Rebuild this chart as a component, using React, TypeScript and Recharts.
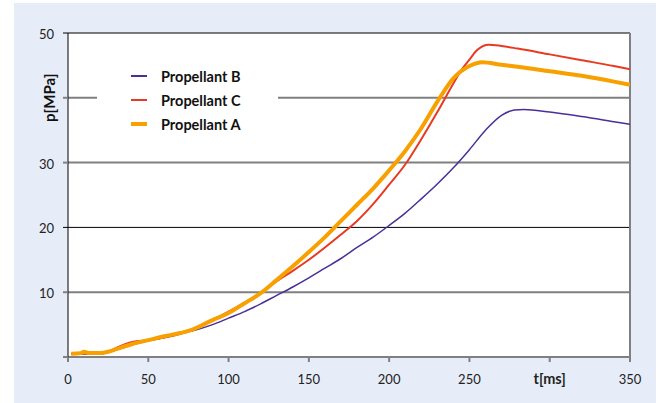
import {
  LineChart,
  Line,
  XAxis,
  YAxis,
  CartesianGrid,
  ReferenceLine,
  Legend,
} from 'recharts';

// time axis (ms) and pressure (MPa)
const tA = [2, 8, 10, 13, 20, 25, 30, 36, 40, 50, 60, 70, 76, 80, 90, 100, 110, 120, 130, 140, 150, 160, 170, 180, 190, 200, 210, 220, 230, 240, 250, 258, 270, 280, 300, 320, 340, 350];
const pA = [0.5, 0.6, 0.8, 0.6, 0.6, 0.8, 1.2, 1.7, 2.0, 2.6, 3.2, 3.7, 4.1, 4.5, 5.7, 6.8, 8.3, 9.85, 11.9, 14.0, 16.2, 18.5, 21.0, 23.5, 26.0, 28.8, 31.8, 35.3, 39.4, 43.0, 44.9, 45.5, 45.1, 44.8, 44.1, 43.4, 42.5, 42.0];

const tC = [2, 20, 25, 30, 36, 40, 50, 60, 70, 76, 80, 90, 100, 110, 120, 130, 140, 150, 160, 170, 180, 190, 200, 210, 220, 230, 240, 245, 250, 255, 262, 270, 280, 300, 320, 340, 350];
const pC = [0.5, 0.5, 0.8, 1.4, 2.0, 2.3, 2.6, 3.0, 3.6, 4.1, 4.5, 5.7, 7.0, 8.4, 9.9, 11.7, 13.3, 15.0, 16.9, 18.9, 21.0, 23.6, 26.6, 29.7, 33.6, 37.8, 42.2, 44.3, 45.9, 47.4, 48.2, 48.0, 47.6, 46.7, 45.8, 44.9, 44.4];

const tB = [2, 20, 30, 40, 50, 60, 70, 80, 90, 100, 110, 120, 130, 140, 150, 160, 170, 180, 190, 200, 210, 220, 230, 240, 250, 260, 270, 278, 284, 300, 320, 340, 350];
const pB = [0.5, 0.5, 1.1, 1.9, 2.5, 3.0, 3.6, 4.2, 5.0, 6.0, 7.0, 8.2, 9.5, 10.8, 12.2, 13.7, 15.2, 16.9, 18.5, 20.3, 22.2, 24.4, 26.7, 29.2, 32.0, 35.0, 37.3, 38.1, 38.2, 37.8, 37.1, 36.3, 35.9];

const xTicks = [0, 50, 100, 150, 200, 250, 300, 350];
const yTicks = [0, 10, 20, 30, 40, 50];

const legendItems = [
  { name: 'Propellant B', color: '#4a2f98', width: 1.5 },
  { name: 'Propellant C', color: '#e83a22', width: 2 },
  { name: 'Propellant A', color: '#f7a000', width: 4 },
];

const toRows = (t: number[], p: number[]) => t.map((v, i) => ({ t: v, p: p[i] }));

const font = 'Lato, "Open Sans", sans-serif';

function YTick(props: any) {
  const { x, y, payload } = props;
  const v = payload.value;
  const dark = v === 20 || v === 50;
  return (
    <g>
      <line x1={x - 5} x2={x} y1={y} y2={y} stroke={dark ? '#000' : '#808080'} strokeWidth={dark ? 1 : 2} />
      {v === 40 ? (
        <text
          x={49}
          y={y}
          transform={`rotate(-90 49 ${y})`}
          textAnchor="middle"
          dominantBaseline="central"
          fontFamily={font}
          fontWeight="bold"
          fontSize={15}
          fill="#111"
        >
          p[MPa]
        </text>
      ) : v === 0 ? null : (
        <text x={54} y={y + 1} textAnchor="end" dominantBaseline="central" fontFamily={font} fontSize={13} fill="#222">
          {v}
        </text>
      )}
    </g>
  );
}

function XTick(props: any) {
  const { x, y, payload } = props;
  const v = payload.value;
  return (
    <text
      x={x}
      y={y + 20}
      textAnchor="middle"
      fontFamily={font}
      fontSize={v === 300 ? 14.5 : 13}
      fontWeight={v === 300 ? 'bold' : 'normal'}
      fill="#222"
    >
      {v === 300 ? 't[ms]' : v}
    </text>
  );
}

function LegendBox() {
  return (
    <div style={{ background: '#fff', width: 181, height: 78, paddingTop: 2, boxSizing: 'border-box' }}>
      {legendItems.map((it) => (
        <div key={it.name} style={{ display: 'flex', alignItems: 'center', height: 24 }}>
          <div style={{ marginLeft: 34, width: 16, height: it.width, background: it.color }} />
          <span style={{ marginLeft: 14, fontFamily: font, fontWeight: 'bold', fontSize: 14.5, color: '#111' }}>
            {it.name}
          </span>
        </div>
      ))}
    </div>
  );
}

export default function App() {
  return (
    <div style={{ position: 'absolute', left: 0, top: 0, width: 664, height: 403, background: '#fff' }}>
      <div style={{ position: 'absolute', left: 14, top: 3, width: 642, height: 400, background: '#e7edf8' }} />
      <div style={{ position: 'absolute', left: 0, top: 0 }}>
        <LineChart width={664} height={403} margin={{ top: 33, right: 34, left: 18, bottom: 16 }}>
          <CartesianGrid horizontal={false} vertical={false} fill="#ffffff" />
          <XAxis
            dataKey="t"
            type="number"
            domain={[0, 350]}
            ticks={xTicks}
            allowDataOverflow
            height={30}
            stroke="#808080"
            strokeWidth={2}
            tickSize={5}
            tick={<XTick />}
          />
          <YAxis
            type="number"
            domain={[0, 50]}
            ticks={yTicks}
            width={50}
            stroke="#000"
            tickLine={false}
            tickSize={0}
            tickMargin={0}
            tick={<YTick />}
          />
          <ReferenceLine y={10} stroke="#808080" strokeWidth={2} />
          <ReferenceLine y={20} stroke="#000" strokeWidth={1} />
          <ReferenceLine y={30} stroke="#808080" strokeWidth={2} />
          <ReferenceLine y={40} stroke="#808080" strokeWidth={2} />
          <ReferenceLine y={50} stroke="#000" strokeWidth={1} />
          <ReferenceLine x={350} stroke="#808080" strokeWidth={2} />
          <Legend
            layout="horizontal"
            verticalAlign="middle"
            content={<LegendBox />}
            wrapperStyle={{ position: 'absolute', left: 97, top: 62, width: 181, height: 78 }}
          />
          <Line data={toRows(tB, pB)} dataKey="p" type="monotone" stroke="#4a2f98" strokeWidth={1.5} dot={false} isAnimationActive={false} name="Propellant B" />
          <Line data={toRows(tC, pC)} dataKey="p" type="monotone" stroke="#e83a22" strokeWidth={2} dot={false} isAnimationActive={false} name="Propellant C" />
          <Line data={toRows(tA, pA)} dataKey="p" type="monotone" stroke="#f7a000" strokeWidth={4} dot={false} isAnimationActive={false} name="Propellant A" />
        </LineChart>
      </div>
    </div>
  );
}
